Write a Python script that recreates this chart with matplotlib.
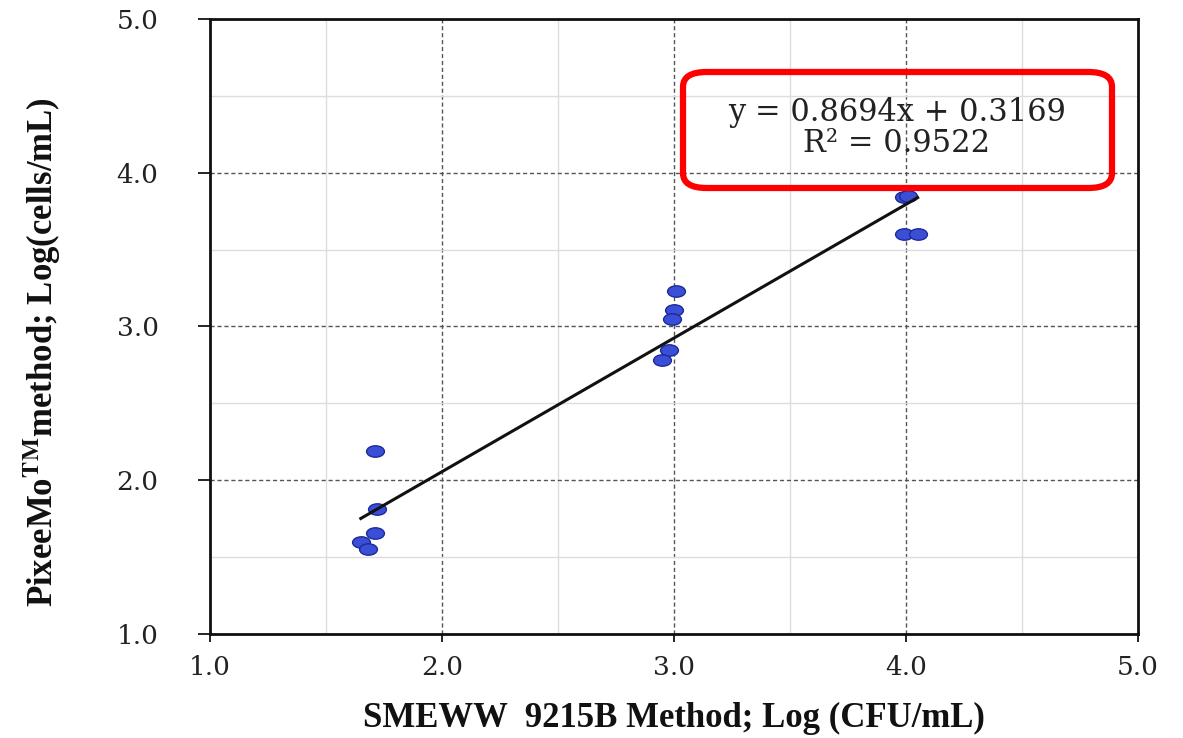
import matplotlib
matplotlib.use("Agg")
import matplotlib.pyplot as plt
import numpy as np
from matplotlib.path import Path
from matplotlib.patches import FancyBboxPatch
from matplotlib.ticker import MultipleLocator, FormatStrFormatter

# Data
smeww_log = [1.71, 1.72, 1.71, 1.65, 1.68,
             3.01, 3.00, 2.99, 2.98, 2.95,
             3.99, 4.01, 3.99, 4.05]
pixeemo_log = [2.19, 1.81, 1.66, 1.60, 1.55,
               3.23, 3.11, 3.05, 2.85, 2.78,
               3.84, 3.85, 3.60, 3.60]
slope = 0.8694
intercept = 0.3169
r2 = 0.9522
x_ticks = [1.0, 2.0, 3.0, 4.0, 5.0]
y_ticks = [1.0, 2.0, 3.0, 4.0, 5.0]

plt.rcParams['mathtext.fontset'] = 'stix'

fig = plt.figure(figsize=(11.83, 7.38), dpi=100)
ax = fig.add_axes([0.1775, 0.1409, 0.7845, 0.8334])

ax.set_xlim(1.0, 5.0)
ax.set_ylim(1.0, 5.0)
ax.set_xticks(x_ticks)
ax.set_yticks(y_ticks)
ax.xaxis.set_minor_locator(MultipleLocator(0.5))
ax.yaxis.set_minor_locator(MultipleLocator(0.5))
ax.xaxis.set_major_formatter(FormatStrFormatter('%.1f'))
ax.yaxis.set_major_formatter(FormatStrFormatter('%.1f'))

ax.grid(which='major', color='#555555', linestyle=(0, (3, 2)), linewidth=1.0)
ax.grid(which='minor', color='#dddddd', linestyle='-', linewidth=1.0)
ax.set_axisbelow(True)

for s in ax.spines.values():
    s.set_linewidth(2.0)
    s.set_color('#111111')

ax.tick_params(which='major', direction='out', width=1.2, labelsize=19)
ax.tick_params(axis='y', which='major', length=9, pad=28)
ax.tick_params(axis='x', which='major', length=6, pad=9)
ax.tick_params(which='minor', length=0)
for lab in ax.get_xticklabels() + ax.get_yticklabels():
    lab.set_family('DejaVu Serif')
    lab.set_color('#222222')

# Ellipse marker
circ = Path.unit_circle()
verts = circ.vertices * np.array([1.0, 0.64])
ell = Path(verts, circ.codes)

ax.scatter(smeww_log, pixeemo_log, marker=ell, s=165, color='#3b4fd6',
           edgecolors='#1c2a9c', linewidths=1.0, zorder=3)

xs = np.array([min(smeww_log), max(smeww_log)])
ax.plot(xs, slope * xs + intercept, color='#111111', linewidth=2.2, zorder=4)

fig.text(674 / 1183, 1 - 718 / 738, 'SMEWW  9215B Method; Log (CFU/mL)',
         ha='center', va='center', family='Liberation Serif',
         fontweight='bold', fontsize=25, color='#111111')
fig.text(42 / 1183, 1 - 352 / 738,
         r'PixeeMo$^{\mathbf{TM}}$method; Log(cells/mL)',
         ha='center', va='center', rotation=90, family='Liberation Serif',
         fontweight='bold', fontsize=25, color='#111111')

# Equation box
box = FancyBboxPatch((683 / 1183, 1 - 188 / 738), (1112 - 683) / 1183,
                     (188 - 72) / 738,
                     boxstyle='round,pad=0,rounding_size=0.02',
                     transform=fig.transFigure, facecolor='none',
                     edgecolor='#ff0000', linewidth=4.5, zorder=10)
fig.patches.append(box)
fig.text(897 / 1183, 1 - 112 / 738, f'y = {slope}x + {intercept}',
         ha='center', va='center', family='DejaVu Serif', fontsize=22,
         color='#222222', zorder=11)
fig.text(897 / 1183, 1 - 143 / 738, f'R² = {r2}',
         ha='center', va='center', family='DejaVu Serif', fontsize=22,
         color='#222222', zorder=11)

fig.savefig('out.png', dpi=100)
